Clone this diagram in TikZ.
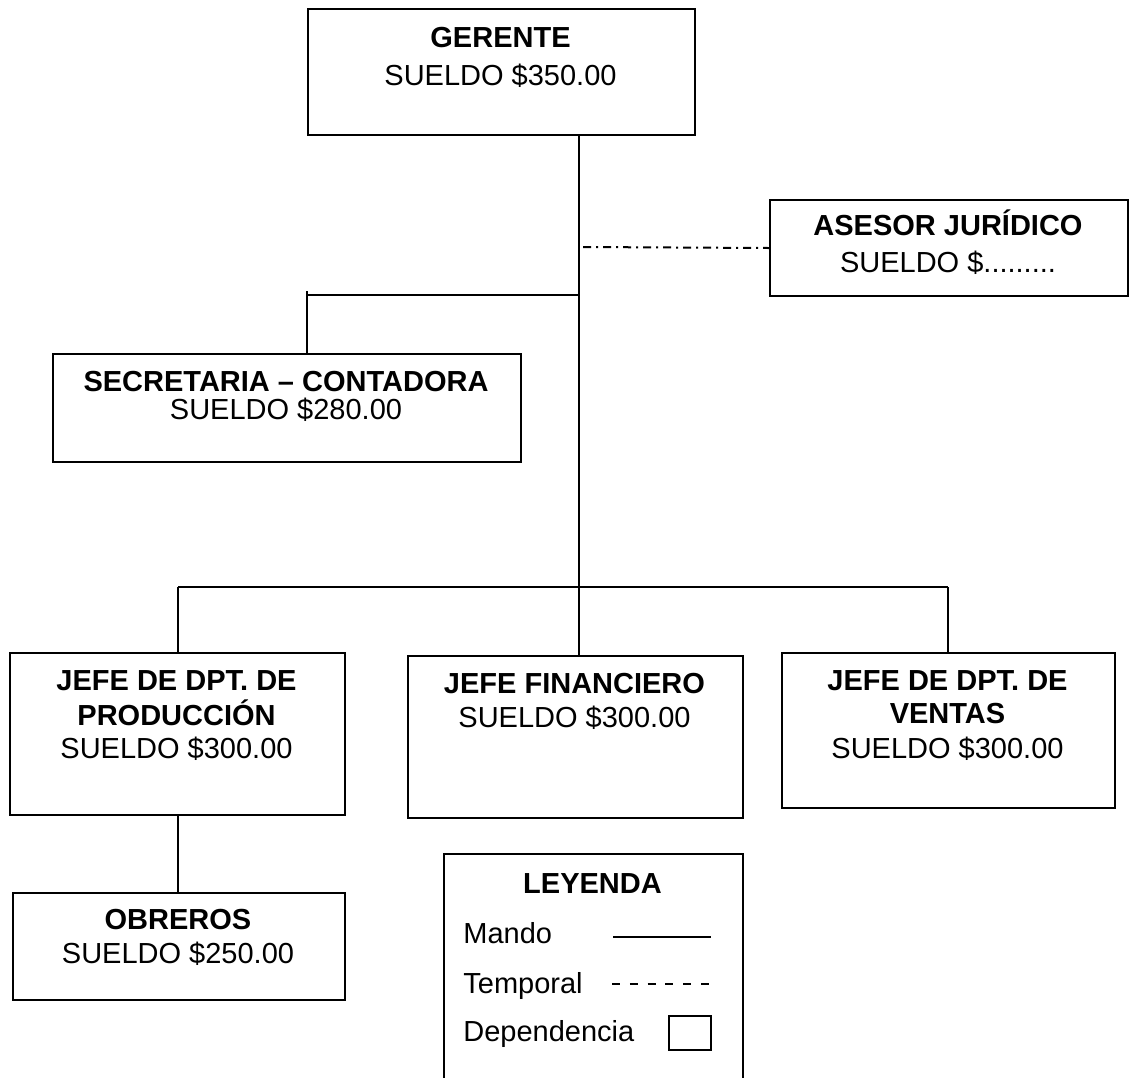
\documentclass[tikz,border=0pt]{standalone}
\usepackage{fontspec}
\setmainfont{Liberation Sans}
\begin{document}
\begin{tikzpicture}[x=0.5pt,y=-0.5pt,
  box/.style={draw, line width=1pt, inner sep=0pt, anchor=north west},
  txt/.style={inner sep=0pt, anchor=base, font=\fontsize{14.5pt}{17pt}\selectfont},
  ttl/.style={inner sep=0pt, anchor=base, font=\fontsize{14.5pt}{17pt}\selectfont\bfseries},
  keytxt/.style={inner sep=0pt, anchor=base west, font=\fontsize{14.5pt}{17pt}\selectfont},
  link/.style={line width=1pt},
  temp/.style={line width=1pt, dash pattern=on 4pt off 2.5pt on 1pt off 2.5pt},
  keydash/.style={line width=1pt, dash pattern=on 4pt off 4.9pt}]
\useasboundingbox (0,0) rectangle (1129,1077);
\clip (0,0) rectangle (1129,1077);

% boxes
\node[box, minimum width=193.5pt, minimum height=63pt]  (gerente)    at (307,8)   {};
\node[box, minimum width=179pt,   minimum height=48pt]  (asesor)     at (769,199) {};
\node[box, minimum width=234pt,   minimum height=54pt]  (secretaria) at (52,353)  {};
\node[box, minimum width=167.5pt, minimum height=81pt]  (prod)       at (9,652)   {};
\node[box, minimum width=167.5pt, minimum height=81pt]  (fin)        at (407,655) {};
\node[box, minimum width=166.5pt, minimum height=77.5pt](ventas)     at (781,652) {};
\node[box, minimum width=166pt,   minimum height=53.5pt](obreros)    at (12,892)  {};
\node[box, minimum width=149.5pt, minimum height=120pt] (leyenda)    at (443,853) {};

% box texts
\node[ttl] (g1) at (500.5,47) {GERENTE};
\node[txt] (g2) at (500.5,85) {SUELDO \$350.00};
\node[ttl] (a1) at (948,235) {ASESOR JURÍDICO};
\node[txt] (a2) at (948,272) {SUELDO \$.........};
\node[ttl] (s1) at (286,391) {SECRETARIA – CONTADORA};
\node[txt] (s2) at (286,419) {SUELDO \$280.00};
\node[ttl] (p1) at (176.5,690) {JEFE DE DPT. DE};
\node[ttl] (p2) at (176.5,725) {PRODUCCIÓN};
\node[txt] (p3) at (176.5,758) {SUELDO \$300.00};
\node[ttl] (f1) at (574.5,693) {JEFE FINANCIERO};
\node[txt] (f2) at (574.5,727) {SUELDO \$300.00};
\node[ttl] (v1) at (947.5,690) {JEFE DE DPT. DE};
\node[ttl] (v2) at (947.5,723) {VENTAS};
\node[txt] (v3) at (947.5,758) {SUELDO \$300.00};
\node[ttl] (o1) at (178,929) {OBREROS};
\node[txt] (o2) at (178,963) {SUELDO \$250.00};

% junction points
\coordinate (tdash)   at (583,247);
\coordinate (tjoin)   at (579,295);
\coordinate (secturn) at (307,295);
\coordinate (secstub) at (307,291);
\coordinate (bus)     at (579,587);
\coordinate (busL)    at (178,587);
\coordinate (busR)    at (948,587);

% connectors
\draw[link] (gerente.south -| bus) -- (fin.north -| bus);
\draw[link] (tjoin) -- (secturn);
\draw[link] (secstub) -- (secretaria.north -| secstub);
\draw[temp] (tdash) -- (asesor.west);
\draw[link] (busL) -- (busR);
\draw[link] (busL) -- (prod.north -| busL);
\draw[link] (busR) -- (ventas.north -| busR);
\draw[link] (prod.south -| busL) -- (obreros.north -| busL);

% legend
\node[ttl] (k0) at (592.5,893) {LEYENDA};
\node[keytxt] (k1) at (463,943) {Mando};
\node[keytxt] (k2) at (463,993) {Temporal};
\node[keytxt] (k3) at (463,1041) {Dependencia};
\coordinate (m1) at (613,937);
\coordinate (m2) at (711,937);
\draw[link] (m1) -- (m2);
\coordinate (d1) at (612,984);
\coordinate (d2) at (709,984);
\draw[keydash] (d1) -- (d2);
\node[box, minimum width=21pt, minimum height=17pt] (depbox) at (668,1015) {};
\end{tikzpicture}
\end{document}
